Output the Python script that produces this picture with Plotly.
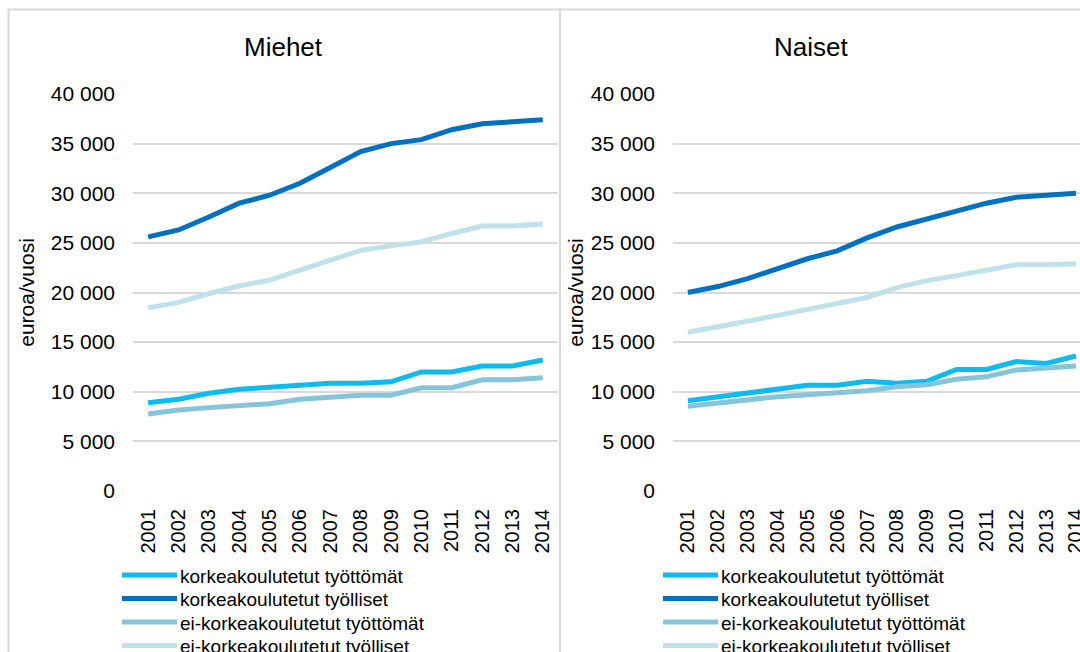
import plotly.graph_objects as go

# Vuodet ja sarjat (euroa/vuosi)
years = [str(y) for y in range(2001, 2015)]

series_names = [
    "korkeakoulutetut työttömät",
    "korkeakoulutetut työlliset",
    "ei-korkeakoulutetut työttömät",
    "ei-korkeakoulutetut työlliset",
]
series_colors = ["#0DBBEF", "#0070C0", "#85C4DB", "#BEE1EC"]

# Miehet
men_kk_tyottomat = [8900, 9250, 9850, 10250, 10450, 10650, 10850, 10850, 11000, 12000, 12000, 12600, 12600, 13200]
men_kk_tyolliset = [25600, 26300, 27600, 29000, 29800, 31000, 32600, 34200, 35000, 35400, 36400, 37000, 37200, 37400]
men_eikk_tyottomat = [7750, 8150, 8400, 8600, 8800, 9250, 9500, 9650, 9650, 10400, 10400, 11200, 11200, 11400]
men_eikk_tyolliset = [18450, 19000, 19900, 20650, 21250, 22250, 23300, 24250, 24700, 25100, 25950, 26700, 26700, 26900]

# Naiset
women_kk_tyottomat = [9100, 9500, 9900, 10300, 10650, 10650, 11050, 10850, 11050, 12250, 12250, 13050, 12850, 13600]
women_kk_tyolliset = [20000, 20600, 21400, 22400, 23400, 24200, 25500, 26600, 27400, 28200, 29000, 29600, 29800, 30000]
women_eikk_tyottomat = [8550, 8900, 9250, 9500, 9700, 9900, 10100, 10500, 10700, 11250, 11500, 12200, 12400, 12600]
women_eikk_tyolliset = [16000, 16500, 17100, 17700, 18300, 18900, 19500, 20500, 21200, 21700, 22200, 22800, 22800, 22900]

y_ticks = [0, 5000, 10000, 15000, 20000, 25000, 30000, 35000, 40000]

panels = [
    ("Miehet", [men_kk_tyottomat, men_kk_tyolliset, men_eikk_tyottomat, men_eikk_tyolliset]),
    ("Naiset", [women_kk_tyottomat, women_kk_tyolliset, women_eikk_tyottomat, women_eikk_tyolliset]),
]

W, H = 1080, 652
FONT = "Liberation Sans, Arial, sans-serif"
GRID = "#D9D9D9"

fig = go.Figure()

axis_names = [("x", "y"), ("x2", "y2")]
for (title, data), (xa, ya) in zip(panels, axis_names):
    for name, color, values in zip(series_names, series_colors, data):
        fig.add_trace(go.Scatter(
            x=years, y=values, name=name, mode="lines",
            line=dict(color=color, width=5),
            xaxis=xa, yaxis=ya, showlegend=False,
            hovertemplate="%{x}: %{y:,}<extra>" + name + "</extra>",
        ))


def px_x(v):
    return v / W


def px_y(v):
    return 1 - v / H


y_dom = [px_y(491), px_y(94)]

common_x = dict(
    type="category", categoryorder="array", categoryarray=years,
    tickangle=-90, showgrid=False, zeroline=False, showline=False,
    ticks="", tickfont=dict(family=FONT, size=20, color="#000000"),
    ticklabelstandoff=13, automargin=False, fixedrange=True,
)
common_y = dict(
    range=[0, 40000], tickvals=y_ticks, tickformat=",d",
    showgrid=True, gridcolor=GRID, gridwidth=1.5, zeroline=False,
    showline=False, ticks="",
    tickfont=dict(family=FONT, size=21, color="#000000"),
    ticklabelstandoff=17, automargin=False, fixedrange=True,
)

# Vasen paneeli: 14 luokkaa alueella 133..558 px
fig.update_layout(
    xaxis=dict(domain=[px_x(133), px_x(558)], range=[-0.5, 13.5], anchor="y", **common_x),
    yaxis=dict(domain=y_dom, anchor="x",
               title=dict(text="euroa/vuosi", standoff=10,
                          font=dict(family=FONT, size=21, color="#000000")),
               **common_y),
    # Oikea paneeli jatkuu kuvan reunan yli
    xaxis2=dict(domain=[px_x(673), 1.0], range=[-0.5, -0.5 + (W - 673) / 29.85], anchor="y2", **common_x),
    yaxis2=dict(domain=y_dom, anchor="x2",
                title=dict(text="euroa/vuosi", standoff=1,
                           font=dict(family=FONT, size=21, color="#000000")),
                **common_y),
)

shapes = []
annotations = []

# Paneelien kehykset
shapes.append(dict(type="rect", xref="paper", yref="paper",
                   x0=px_x(8.5), x1=px_x(560), y0=px_y(700), y1=px_y(9.5),
                   line=dict(color=GRID, width=2), fillcolor="rgba(0,0,0,0)", layer="below"))
shapes.append(dict(type="rect", xref="paper", yref="paper",
                   x0=px_x(560), x1=px_x(1120), y0=px_y(700), y1=px_y(9.5),
                   line=dict(color=GRID, width=2), fillcolor="rgba(0,0,0,0)", layer="below"))

# Otsikot
for (title, _), cx in zip(panels, [283, 811]):
    annotations.append(dict(text=title, x=px_x(cx), y=px_y(47), xref="paper", yref="paper",
                            xanchor="center", yanchor="middle", showarrow=False,
                            font=dict(family=FONT, size=26, color="#000000")))

# Selitteet kummankin paneelin alle
for x_off in [122, 663]:
    for i, (name, color) in enumerate(zip(series_names, series_colors)):
        yc = 575 + 23.5 * i
        shapes.append(dict(type="line", xref="paper", yref="paper",
                           x0=px_x(x_off), x1=px_x(x_off + 55), y0=px_y(yc), y1=px_y(yc),
                           line=dict(color=color, width=5)))
        annotations.append(dict(text=name, x=px_x(x_off + 56), y=px_y(yc + 1), xref="paper", yref="paper",
                                xanchor="left", yanchor="middle", showarrow=False,
                                font=dict(family=FONT, size=19, color="#000000")))

fig.update_layout(
    width=W, height=H,
    margin=dict(l=0, r=0, t=0, b=0),
    paper_bgcolor="#FFFFFF", plot_bgcolor="#FFFFFF",
    separators=", ",
    shapes=shapes, annotations=annotations,
    font=dict(family=FONT, color="#000000"),
)

fig.write_html("out.html", config={"displayModeBar": False})
